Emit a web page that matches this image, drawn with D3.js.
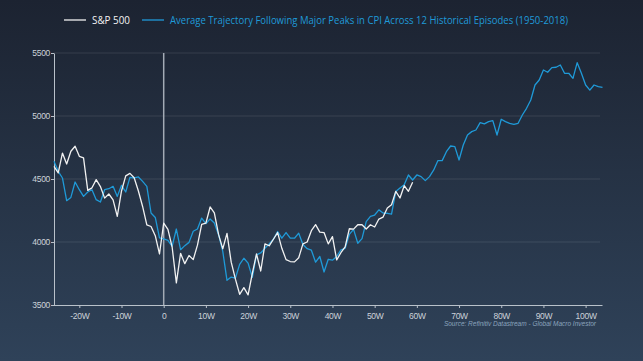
<!DOCTYPE html>
<html>
<head>
<meta charset="utf-8">
<script src="https://cdn.jsdelivr.net/npm/d3@7"></script>
<style>
  html, body { margin: 0; padding: 0; background: #1d2533; }
  svg { display: block; }
</style>
</head>
<body>
<div id="chart"></div>
<script>
// weekly data, week -26 onwards
var spxStart = -26;
var spx = [4600, 4548, 4706, 4619, 4720, 4760, 4680, 4667, 4410, 4430,
  4495, 4440, 4348, 4381, 4335, 4203, 4405, 4525, 4545, 4510,
  4405, 4282, 4136, 4123, 4050, 3905, 4150, 4100, 3960, 3675,
  3910, 3828, 3893, 3860, 3975, 4140, 4150, 4278, 4232, 4060,
  3945, 4068, 3840, 3705, 3585, 3638, 3580, 3750, 3905, 3770,
  3985, 3970, 4022, 4075, 3950, 3860, 3845, 3842, 3875, 3985,
  4000, 4090, 4138, 4078, 4075, 3985, 4043, 3858, 3915, 3962,
  4105, 4102, 4137, 4137, 4103, 4137, 4119, 4182, 4198, 4270,
  4296, 4402, 4349, 4447, 4402, 4474];

var avgStart = -26;
var avgCpi = [4640, 4561, 4508, 4328, 4354, 4476, 4415, 4362, 4397, 4415,
  4336, 4317, 4415, 4423, 4442, 4362, 4450, 4397, 4513, 4508,
  4516, 4481, 4442, 4230, 4195, 4032, 4024, 4013, 3966, 4103,
  3939, 3971, 3997, 4085, 4103, 4190, 4145, 4183, 4151, 4058,
  3926, 3696, 3722, 3714, 3822, 3871, 3832, 3720, 3898, 3913,
  3950, 3985, 4022, 4083, 4030, 4075, 4030, 4030, 4070, 3980,
  3947, 3935, 3840, 3885, 3762, 3863, 3856, 3885, 3938, 3950,
  4060, 4100, 3990, 4027, 4162, 4203, 4214, 4255, 4230, 4228,
  4222, 4400, 4428, 4455, 4532, 4492, 4532, 4519, 4487, 4519,
  4572, 4646, 4646, 4717, 4762, 4757, 4651, 4770, 4849, 4876,
  4889, 4947, 4937, 4955, 4963, 4849, 4974, 4955, 4942, 4934,
  4942, 5008, 5061, 5127, 5246, 5286, 5365, 5347, 5384, 5387,
  5405, 5339, 5339, 5299, 5423, 5339, 5246, 5206, 5246, 5233,
  5228];

var xTicks = [-20, -10, 0, 10, 20, 30, 40, 50, 60, 70, 80, 90, 100];
var yTicks = [3500, 4000, 4500, 5000, 5500];

var legendItems = [
  { label: "S&P 500", color: "#f2f2f2" },
  { label: "Average Trajectory Following Major Peaks in CPI Across 12 Historical Episodes (1950-2018)", color: "#1f9ad8" }
];

var W = 643, H = 361;
var spxColor = "#f2f2f2", avgColor = "#1f9ad8";

var svg = d3.select("#chart").append("svg")
  .attr("width", W)
  .attr("height", H);

// background gradient
var grad = svg.append("defs").append("linearGradient")
  .attr("id", "bg")
  .attr("x1", 0).attr("y1", 0).attr("x2", 0).attr("y2", 1);
grad.append("stop").attr("offset", "0%").attr("stop-color", "#1c2331");
grad.append("stop").attr("offset", "100%").attr("stop-color", "#2f4259");
svg.append("rect").attr("width", W).attr("height", H).attr("fill", "url(#bg)");

var x = d3.scaleLinear().domain([-26, 104]).range([54, 602.5]);
var y = d3.scaleLinear().domain([3500, 5500]).range([305, 53]);

// gridlines
svg.append("g")
  .selectAll("line")
  .data(yTicks.slice(1))
  .enter().append("line")
  .attr("x1", 54).attr("x2", 600)
  .attr("y1", function(d) { return y(d); })
  .attr("y2", function(d) { return y(d); })
  .attr("stroke", "#ffffff")
  .attr("stroke-opacity", 0.1)
  .attr("stroke-width", 1);

// week 0 marker
svg.append("line")
  .attr("x1", x(0)).attr("x2", x(0))
  .attr("y1", y(5500)).attr("y2", y(3500))
  .attr("stroke", "#a3abb5")
  .attr("stroke-width", 1.5);

// axes
var xAxis = svg.append("g")
  .attr("transform", "translate(0," + y(3500) + ")")
  .call(d3.axisBottom(x)
    .tickValues(xTicks)
    .tickSize(3)
    .tickSizeOuter(0)
    .tickFormat(function(d) { return d === 0 ? "0" : d + "W"; }));

var yAxis = svg.append("g")
  .attr("transform", "translate(54,0)")
  .call(d3.axisLeft(y)
    .tickValues(yTicks)
    .tickSize(3)
    .tickSizeOuter(0)
    .tickFormat(d3.format("d")));

[xAxis, yAxis].forEach(function(a) {
  a.select(".domain").attr("stroke", "#b9c1ca").attr("stroke-width", 1);
  a.selectAll(".tick line").attr("stroke", "#b9c1ca");
  a.selectAll(".tick text")
    .attr("fill", "#ccd2d9")
    .style("font-family", "Liberation Sans, Arial, sans-serif")
    .style("font-size", "8.5px")
    .style("letter-spacing", "-0.3px");
});
xAxis.select(".domain").attr("d", "M54,0.5H602.5");
xAxis.selectAll(".tick text").attr("dy", "0.9em");
yAxis.selectAll(".tick text").attr("x", -4);

// series
var line = d3.line()
  .x(function(d) { return x(d.w); })
  .y(function(d) { return y(d.v); });

var avgData = avgCpi.map(function(v, i) { return { w: avgStart + i, v: v }; });
var spxData = spx.map(function(v, i) { return { w: spxStart + i, v: v }; });

svg.append("path")
  .datum(avgData)
  .attr("d", line)
  .attr("fill", "none")
  .attr("stroke", avgColor)
  .attr("stroke-width", 1.3)
  .attr("stroke-linejoin", "round");

svg.append("path")
  .datum(spxData)
  .attr("d", line)
  .attr("fill", "none")
  .attr("stroke", spxColor)
  .attr("stroke-width", 1.3)
  .attr("stroke-linejoin", "round");

// legend
var legend = svg.append("g").attr("transform", "translate(0,20)");
var legendX = [64, 142];
var legendLen = [38, 398];
legendItems.forEach(function(item, i) {
  var g = legend.append("g").attr("transform", "translate(" + legendX[i] + ",0)");
  g.append("line")
    .attr("x1", 0).attr("x2", 22)
    .attr("y1", 0).attr("y2", 0)
    .attr("stroke", item.color)
    .attr("stroke-width", 1.3);
  g.append("text")
    .attr("x", 28)
    .attr("y", 0)
    .attr("dy", "0.35em")
    .attr("fill", item.color)
    .attr("textLength", legendLen[i])
    .attr("lengthAdjust", "spacingAndGlyphs")
    .style("font-family", "Open Sans, sans-serif")
    .style("font-size", "11px")
    .text(item.label);
});

// source note
svg.append("text")
  .attr("x", 596)
  .attr("y", 324)
  .attr("dy", "0.35em")
  .attr("text-anchor", "end")
  .attr("fill", "#8aa3bd")
  .style("font-family", "Liberation Sans, Arial, sans-serif")
  .style("font-size", "6.5px")
  .style("font-style", "italic")
  .text("Source: Refinitiv Datastream - Global Macro Investor");
</script>
</body>
</html>
